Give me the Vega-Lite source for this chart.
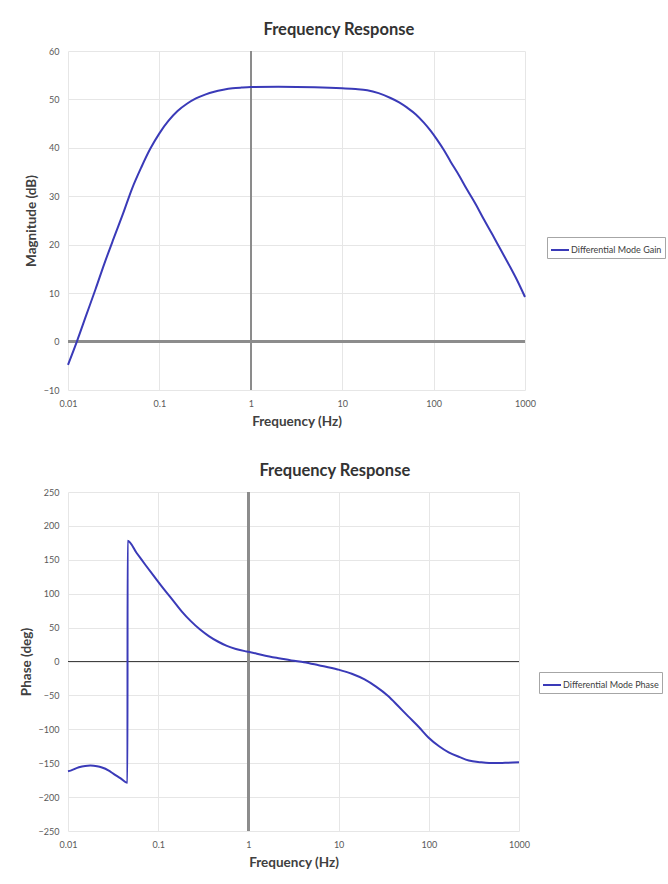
{
  "$schema": "https://vega.github.io/schema/vega-lite/v6.json",
  "background": "white",
  "padding": {"left": 19, "top": 21, "right": 0, "bottom": 0},
  "config": {
    "font": "Lato",
    "view": {"stroke": null},
    "axis": {
      "domain": false,
      "ticks": false,
      "grid": true,
      "gridColor": "#e6e6e6",
      "gridWidth": 1,
      "labelFontSize": 9,
      "labelColor": "#595959",
      "labelFlush": false,
      "titleFontSize": 13.5,
      "titleFontWeight": "bold",
      "titleColor": "#404040",
      "labelPadding": 9
    },
    "axisX": {"titlePadding": 6},
    "axisY": {"titlePadding": 5},
    "title": {"fontSize": 16.5, "fontWeight": "bold", "color": "#333333", "offset": 9, "frame": "bounds", "anchor": "middle", "dx": -6},
    "legend": {
      "strokeColor": "#a6a6a6",
      "padding": 3,
      "symbolType": "stroke",
      "symbolSize": 324,
      "symbolStrokeWidth": 2,
      "labelFontSize": 9,
      "labelColor": "#404040",
      "labelOffset": 1,
      "title": null
    }
  },
  "datasets": {
    "mag": [
      {"f": 0.01, "db": -4.8}, {"f": 0.0125, "db": 0}, {"f": 0.0158, "db": 5.4}, {"f": 0.02, "db": 10.8},
      {"f": 0.025, "db": 16.1}, {"f": 0.0316, "db": 21.3}, {"f": 0.04, "db": 26.4}, {"f": 0.05, "db": 31.5},
      {"f": 0.0631, "db": 35.9}, {"f": 0.0794, "db": 39.8}, {"f": 0.1, "db": 43.0}, {"f": 0.126, "db": 45.6},
      {"f": 0.158, "db": 47.6}, {"f": 0.2, "db": 49.1}, {"f": 0.251, "db": 50.2}, {"f": 0.316, "db": 51.0},
      {"f": 0.398, "db": 51.6}, {"f": 0.5, "db": 52.0}, {"f": 0.631, "db": 52.3}, {"f": 0.794, "db": 52.45},
      {"f": 1, "db": 52.55}, {"f": 2, "db": 52.6}, {"f": 5, "db": 52.5}, {"f": 10, "db": 52.3},
      {"f": 14, "db": 52.15}, {"f": 18.8, "db": 51.9}, {"f": 25, "db": 51.3}, {"f": 33.8, "db": 50.3},
      {"f": 42, "db": 49.4}, {"f": 51.4, "db": 48.3}, {"f": 64, "db": 46.9}, {"f": 78.2, "db": 45.2},
      {"f": 93, "db": 43.5}, {"f": 109, "db": 41.7}, {"f": 130, "db": 39.5}, {"f": 153, "db": 37.2},
      {"f": 190, "db": 34.3}, {"f": 232, "db": 31.4}, {"f": 290, "db": 28.3}, {"f": 353, "db": 25.3},
      {"f": 440, "db": 22.1}, {"f": 537, "db": 19.1}, {"f": 670, "db": 15.8}, {"f": 817, "db": 12.7},
      {"f": 1000, "db": 9.2}
    ],
    "phase": [
      {"f": 0.01, "deg": -162}, {"f": 0.0107, "deg": -161}, {"f": 0.0132, "deg": -156}, {"f": 0.0155, "deg": -154},
      {"f": 0.0177, "deg": -153.5}, {"f": 0.021, "deg": -154.5}, {"f": 0.0238, "deg": -156.4}, {"f": 0.028, "deg": -160.5},
      {"f": 0.032, "deg": -165.7}, {"f": 0.038, "deg": -172}, {"f": 0.0456, "deg": -179}, {"f": 0.0458, "deg": 178},
      {"f": 0.0577, "deg": 160}, {"f": 0.0726, "deg": 142}, {"f": 0.0914, "deg": 124.3}, {"f": 0.115, "deg": 107},
      {"f": 0.145, "deg": 90.5}, {"f": 0.182, "deg": 74}, {"f": 0.23, "deg": 59.5}, {"f": 0.289, "deg": 47.5},
      {"f": 0.364, "deg": 37.5}, {"f": 0.458, "deg": 29.5}, {"f": 0.577, "deg": 23}, {"f": 0.726, "deg": 18.5},
      {"f": 0.914, "deg": 15.3}, {"f": 1, "deg": 14.3}, {"f": 1.5, "deg": 9}, {"f": 2.26, "deg": 4.5},
      {"f": 3, "deg": 1.5}, {"f": 4.13, "deg": -1}, {"f": 6, "deg": -5.5}, {"f": 9.75, "deg": -11.7},
      {"f": 14, "deg": -18}, {"f": 19.4, "deg": -26.4}, {"f": 26, "deg": -37}, {"f": 35.4, "deg": -50.8},
      {"f": 46, "deg": -66}, {"f": 59.2, "deg": -81}, {"f": 78, "deg": -97}, {"f": 99, "deg": -112},
      {"f": 130, "deg": -125}, {"f": 166, "deg": -134}, {"f": 220, "deg": -141}, {"f": 278, "deg": -146},
      {"f": 370, "deg": -148.5}, {"f": 466, "deg": -149.6}, {"f": 700, "deg": -149.5}, {"f": 1000, "deg": -148.6}
    ]
  },
  "vconcat": [
    {
      "title": "Frequency Response",
      "width": 457,
      "height": 339,
      "data": {"name": "mag"},
      "encoding": {
        "x": {"field": "f", "type": "quantitative", "scale": {"type": "log", "domain": [0.01, 1000]},
              "axis": {"values": [0.01, 0.1, 1, 10, 100, 1000], "format": "~g", "title": "Frequency (Hz)"}},
        "y": {"field": "db", "type": "quantitative", "scale": {"domain": [-10, 60], "nice": false},
              "axis": {"values": [-10, 0, 10, 20, 30, 40, 50, 60], "title": "Magnitude (dB)"}}
      },
      "layer": [
        {"mark": {"type": "rule", "color": "#8c8c8c", "strokeWidth": 2}, "encoding": {"y": {"datum": 0}, "x": null}},
        {"mark": {"type": "rule", "color": "#8c8c8c", "strokeWidth": 1.5}, "encoding": {"x": {"datum": 1}, "y": null}},
        {
          "mark": {"type": "line", "strokeWidth": 2, "interpolate": "monotone"},
          "encoding": {
            "color": {"datum": "Differential Mode Gain", "type": "nominal", "scale": {"range": ["#3a3ab8"]},
                      "legend": {"orient": "none", "legendX": 479, "legendY": 186}}
          }
        }
      ]
    },
    {
      "title": "Frequency Response",
      "width": 451,
      "height": 339,
      "data": {"name": "phase"},
      "encoding": {
        "x": {"field": "f", "type": "quantitative", "scale": {"type": "log", "domain": [0.01, 1000]},
              "axis": {"values": [0.01, 0.1, 1, 10, 100, 1000], "format": "~g", "title": "Frequency (Hz)"}},
        "y": {"field": "deg", "type": "quantitative", "scale": {"domain": [-250, 250], "nice": false},
              "axis": {"values": [-250, -200, -150, -100, -50, 0, 50, 100, 150, 200, 250], "title": "Phase (deg)"}}
      },
      "layer": [
        {"mark": {"type": "rule", "color": "#404040", "strokeWidth": 1.2}, "encoding": {"y": {"datum": 0}, "x": null}},
        {"mark": {"type": "rule", "color": "#8c8c8c", "strokeWidth": 1.5}, "encoding": {"x": {"datum": 1}, "y": null}},
        {
          "mark": {"type": "line", "strokeWidth": 2, "interpolate": "monotone"},
          "encoding": {
            "color": {"datum": "Differential Mode Phase", "type": "nominal", "scale": {"range": ["#3a3ab8"]},
                      "legend": {"orient": "none", "legendX": 471, "legendY": 180}}
          }
        }
      ]
    }
  ],
  "spacing": 34,
  "resolve": {"scale": {"color": "independent"}}
}
